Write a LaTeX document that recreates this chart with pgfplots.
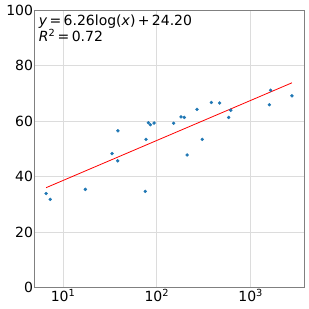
\documentclass[border=0pt]{standalone}
\usepackage{fontspec}
\setmainfont{DejaVu Sans}
\usepackage{pgfplots}
\pgfplotsset{compat=1.18}
\definecolor{ptblue}{HTML}{1F77B4}
\definecolor{gridc}{HTML}{DCDCDC}
\definecolor{framec}{HTML}{808080}
\begin{document}
\begin{tikzpicture}
\begin{axis}[
  xmode=log,
  width=269.3pt, height=277.7pt, scale only axis,
  xmin=4.99, xmax=3700, ymin=0, ymax=100,
  xtick={10,100,1000},
  xticklabels={10\textsuperscript{1},10\textsuperscript{2},10\textsuperscript{3}},
  minor xtick={}, 
  ytick={0,20,40,60,80,100},
  major tick length=0pt, minor tick length=0pt,
  grid=major,
  major grid style={gridc, line width=0.8pt},
  axis line style={framec, line width=0.8pt},
  tick label style={font=\fontsize{14}{16}\selectfont, black},
  yticklabel style={inner sep=1.5pt},
  xticklabel style={inner sep=1.5pt},
  /pgf/number format/assume math mode=true,
  clip=false,
]
\addplot[only marks, mark=*, mark size=1.5pt, ptblue, mark options={draw=ptblue, fill=ptblue}] coordinates {
(6.6,33.9) (7.3,31.8) (17.3,35.4) (33.3,48.3) (38.5,56.5) (38.3,45.7)
(75.3,34.7) (76.7,53.4) (81.2,59.4) (85.3,58.7) (93.3,59.3) (151,59.2)
(181,61.5) (196,61.3) (210,47.8) (268,64.2) (305,53.4) (381,66.7)
(467,66.5) (583,61.3) (613,63.9) (1582,65.9) (1634,71.1) (2754,69.1)
};
\addplot[red, line width=0.8pt] coordinates {(6.6,36.01) (2754,73.78)};
\node[anchor=north west, align=left, inner sep=0pt, font=\fontsize{14}{16}\selectfont] at ([shift={(4pt,-5pt)}]rel axis cs:0,1)
  {\textit{y}\,=\,6.26log(\textit{x})\,+\,24.20\\\textit{R}\textsuperscript{2}\,=\,0.72};
\end{axis}
\path ([shift={(-34.7pt,-21.3pt)}]current axis.south west) rectangle ([shift={(5pt,10pt)}]current axis.north east);
\end{tikzpicture}
\end{document}
